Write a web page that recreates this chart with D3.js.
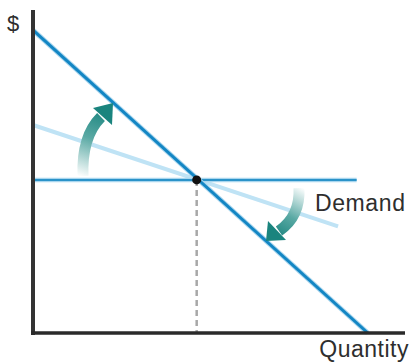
<!DOCTYPE html>
<html>
<head>
<meta charset="utf-8">
<script src="https://cdn.jsdelivr.net/npm/d3@7"></script>
<style>
  html, body { margin: 0; padding: 0; background: #fff; }
  svg { display: block; }
  text { font-family: "Liberation Sans", Arial, sans-serif; fill: #2e2e2e; }
</style>
</head>
<body>
<script>
// Quantity / price units for the demand diagram
const steepDemand = [{q: 0, p: 9.38}, {q: 9.0, p: 0}];
const flatDemand = [{q: 0, p: 6.44}, {q: 8.2, p: 3.3}];
const perfectlyElastic = [{q: 0, p: 4.74}, {q: 8.7, p: 4.74}];
const equilibrium = {q: 4.4, p: 4.74};
const axisLabels = {x: "Quantity", y: "$"};
const curveLabel = "Demand";

const W = 412, H = 362;
const x = d3.scaleLinear().domain([0, 10]).range([33, 405]);
const y = d3.scaleLinear().domain([0, 10]).range([333, 10]);

const svg = d3.select("body").append("svg").attr("width", W).attr("height", H);
const defs = svg.append("defs");

function grad(id, x1, y1, x2, y2) {
  const g = defs.append("linearGradient").attr("id", id)
    .attr("gradientUnits", "userSpaceOnUse")
    .attr("x1", x1).attr("y1", y1).attr("x2", x2).attr("y2", y2);
  g.append("stop").attr("offset", 0).attr("stop-color", "#ffffff");
  g.append("stop").attr("offset", 0.55).attr("stop-color", "#5aa9a4");
  g.append("stop").attr("offset", 1).attr("stop-color", "#1a847e");
}
grad("gUp", 84, 178, 108, 110);
grad("gDown", 300, 186, 272, 236);

const line = d3.line().x(d => x(d.q)).y(d => y(d.p));

// flatter demand curve (light)
svg.append("path").datum(flatDemand).attr("d", line)
  .attr("fill", "none").attr("stroke", "#bfe3f5").attr("stroke-width", 4);

// horizontal (perfectly elastic) line
svg.append("path").datum(perfectlyElastic).attr("d", line)
  .attr("fill", "none").attr("stroke", "#a9d6ee").attr("stroke-width", 4.5);
svg.append("path").datum(perfectlyElastic).attr("d", line)
  .attr("fill", "none").attr("stroke", "#2b93c9").attr("stroke-width", 2);

// dashed drop line to quantity axis
svg.append("line")
  .attr("x1", x(equilibrium.q)).attr("x2", x(equilibrium.q))
  .attr("y1", y(equilibrium.p)).attr("y2", y(0))
  .attr("stroke", "#a8a8a8").attr("stroke-width", 2.5)
  .attr("stroke-dasharray", "6,4");

// steep demand curve
svg.append("path").datum(steepDemand).attr("d", line)
  .attr("fill", "none").attr("stroke", "#a9d6ee").attr("stroke-width", 5);
svg.append("path").datum(steepDemand).attr("d", line)
  .attr("fill", "none").attr("stroke", "#1386c4").attr("stroke-width", 3);

// rotation arrows
svg.append("path").attr("d", "M83,176 C82,150 88,130 101,117")
  .attr("fill", "none").attr("stroke", "url(#gUp)").attr("stroke-width", 11);
svg.append("path").attr("d", "M93,108 L113,103 L112,125 Z").attr("fill", "#1a847e");

svg.append("path").attr("d", "M299,188 C300,208 292,222 279,231")
  .attr("fill", "none").attr("stroke", "url(#gDown)").attr("stroke-width", 11);
svg.append("path").attr("d", "M268,221 L266,241 L286,240 Z").attr("fill", "#1a847e");

// axes
svg.append("line").attr("x1", x(0)).attr("x2", x(0)).attr("y1", y(10)).attr("y2", y(0) + 2)
  .attr("stroke", "#333").attr("stroke-width", 4);
svg.append("line").attr("x1", x(0) - 2).attr("x2", x(10)).attr("y1", y(0)).attr("y2", y(0))
  .attr("stroke", "#2a2a2a").attr("stroke-width", 3.5);

// equilibrium point
svg.append("circle").attr("cx", x(equilibrium.q)).attr("cy", y(equilibrium.p))
  .attr("r", 4.5).attr("fill", "#111");

// labels
svg.append("text").attr("x", 7).attr("y", 31).attr("font-size", 22).text(axisLabels.y);
svg.append("text").attr("x", 315).attr("y", 211).attr("font-size", 23)
  .attr("letter-spacing", 0.6).text(curveLabel);
svg.append("text").attr("x", 409).attr("y", 357).attr("text-anchor", "end")
  .attr("font-size", 23).attr("letter-spacing", 0.5).text(axisLabels.x);
</script>
</body>
</html>
